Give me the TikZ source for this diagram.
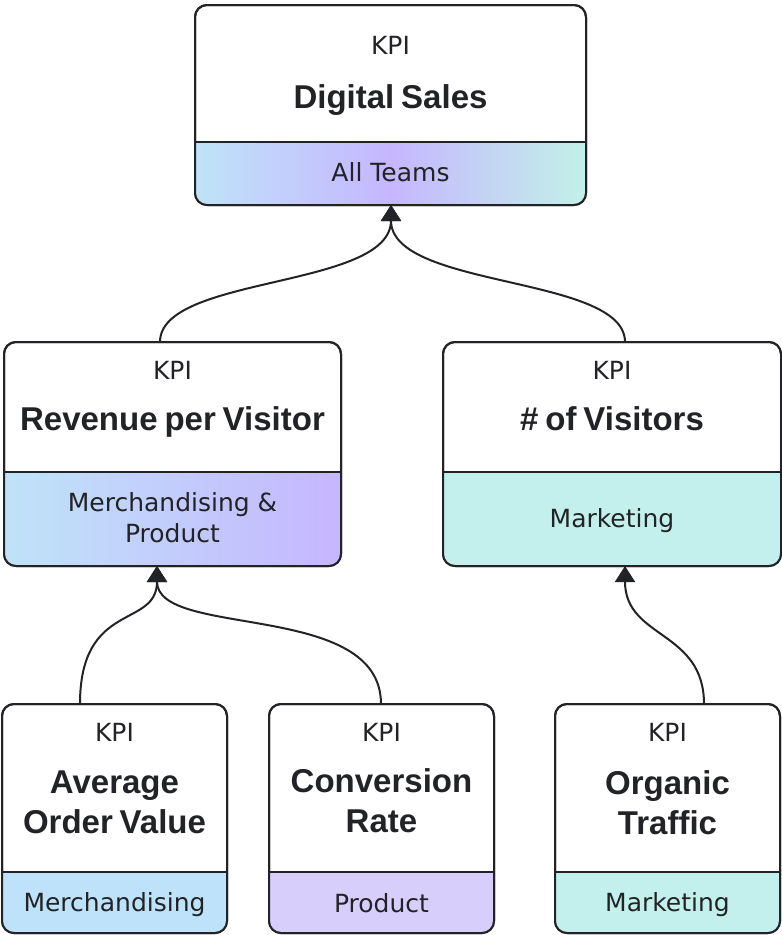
\documentclass[tikz,border=0pt]{standalone}
\usepackage{fontspec}
\setmainfont{DejaVu Sans}
\newfontfamily\titlefont{Liberation Sans}[WordSpace=0.75]
\usetikzlibrary{arrows.meta}
\definecolor{ink}{HTML}{222326}
\definecolor{merch}{HTML}{BEE2FA}
\definecolor{prod}{HTML}{D8CEFC}
\definecolor{mkt}{HTML}{C3F0EC}
\definecolor{gblue}{HTML}{BFE3F8}
\definecolor{gpurp}{HTML}{C6B6FF}
\definecolor{gteal}{HTML}{C2F1E8}
\tikzset{
  boxshape/.style={draw=ink, fill=white, line width=2pt, rounded corners=12pt, inner sep=0pt, outer sep=0pt},
  boxborder/.style={draw=ink, line width=2pt, rounded corners=12pt},
  divider/.style={draw=ink, line width=1.6pt},
  kpi/.style={text=ink, font=\fontsize{25}{30}\selectfont, inner sep=0pt},
  title/.style={text=ink, font=\titlefont\bfseries\fontsize{33}{40}\selectfont, align=center, inner sep=0pt},
  team/.style={text=ink, font=\fontsize{25}{31}\selectfont, align=center, inner sep=0pt},
  conn/.style={draw=ink, line width=2pt, -{Triangle[width=20pt,length=16pt]}},
  fmerch/.style={fill=merch},
  fprod/.style={fill=prod},
  fmkt/.style={fill=mkt},
  fall/.style={left color=gblue, right color=gteal, middle color=gpurp},
  fmp/.style={left color=gblue, right color=gpurp},
}
\newcommand\kpibox[7]{%
  \node[boxshape, minimum width=#4pt, minimum height=#5pt] (#1) at (#2,#3) {};
  \begin{scope}
    \clip[rounded corners=12pt] (#1.south west) rectangle (#1.north east);
    \path[#7] (#1.south west) rectangle (#1.east |- 0,#6);
  \end{scope}
  \draw[divider] (#1.west |- 0,#6) -- (#1.east |- 0,#6);
  \draw[boxborder] (#1.south west) rectangle (#1.north east);
}
\begin{document}
\begin{tikzpicture}[x=1pt,y=-1pt]
\useasboundingbox (0,0) rectangle (782,935);
% boxes
\kpibox{top}{390.5}{105}{391}{200}{142}{fall}
\kpibox{mleft}{172.5}{454}{337}{224}{472}{fmp}
\kpibox{mright}{612}{454}{338}{224}{472}{fmkt}
\kpibox{bl}{114.5}{818.5}{225}{229}{872}{fmerch}
\kpibox{bm}{381.5}{818.5}{225}{229}{872}{fprod}
\kpibox{br}{667.5}{818.5}{225}{229}{872}{fmkt}
% texts
\node[kpi] (top-k) at (390.5,45) {KPI};
\node[title] (top-t) at (390.5,100.5) {Digital Sales};
\node[team] (top-g) at (390.5,172) {All Teams};
\node[kpi] (ml-k) at (172.5,370) {KPI};
\node[title] (ml-t) at (172.5,422) {Revenue per Visitor};
\node[team] (ml-g) at (172.5,517.5) {Merchandising \&\\Product};
\node[kpi] (mr-k) at (612,370) {KPI};
\node[title] (mr-t) at (612,419) {\# of Visitors};
\node[team] (mr-g) at (612,521) {Marketing};
\node[kpi] (bl-k) at (114.5,732) {KPI};
\node[title] (bl-t) at (114.5,802.5) {Average\\Order Value};
\node[team] (bl-g) at (114.5,905) {Merchandising};
\node[kpi] (bm-k) at (381.5,732) {KPI};
\node[title] (bm-t) at (381.5,801) {Conversion\\Rate};
\node[team] (bm-g) at (381.5,903) {Product};
\node[kpi] (br-k) at (667.5,732) {KPI};
\node[title] (br-t) at (667.5,802.5) {Organic\\Traffic};
\node[team] (br-g) at (667.5,905) {Marketing};
% connectors
\draw[conn] ([xshift=-12.5pt]mleft.north) .. controls +(0,-67) and +(0,84) .. ([xshift=0.5pt]top.south);
\draw[conn] ([xshift=13pt]mright.north) .. controls +(0,-67) and +(0,84) .. ([xshift=0.5pt]top.south);
\draw[conn] ([xshift=-34.5pt]bl.north) .. controls +(0,-104) and +(0,63) .. ([xshift=-15.5pt]mleft.south);
\draw[conn] ([xshift=-0.5pt]bm.north) .. controls +(0,-104) and +(0,73) .. ([xshift=-15.5pt]mleft.south);
\draw[conn] ([xshift=36.5pt]br.north) .. controls +(0,-74) and +(0,73) .. ([xshift=13pt]mright.south);
\end{tikzpicture}
\end{document}
